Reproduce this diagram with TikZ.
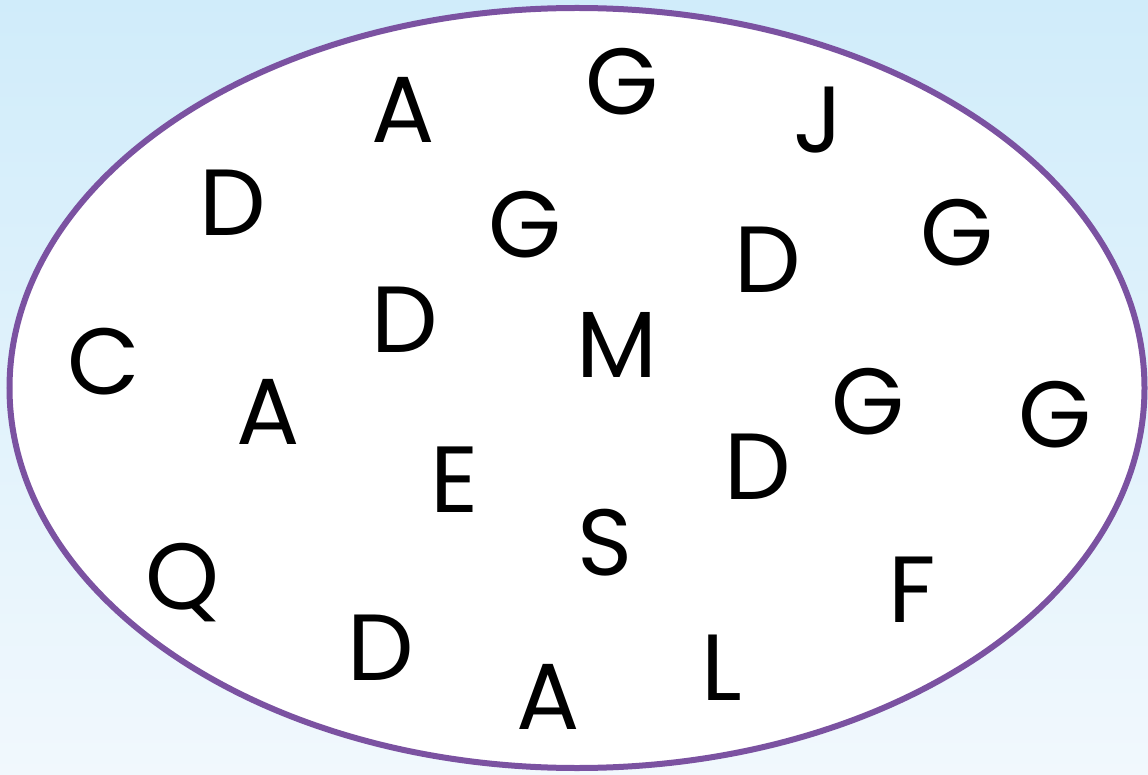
\documentclass[tikz,border=0pt]{standalone}
\usepackage{fontspec}
\setmainfont{Poppins}
\usetikzlibrary{shapes.geometric}
\definecolor{bgtop}{HTML}{D0ECFA}
\definecolor{bgbot}{HTML}{F1F8FD}
\definecolor{rim}{HTML}{7B52A1}
\tikzset{
  letter/.style={inner sep=0pt, anchor=center, font=\fontsize{94}{94}\selectfont, text=black},
}
\begin{document}
\begin{tikzpicture}[x=1pt,y=-1pt]
\useasboundingbox (0,0) rectangle (1148,775);
\shade[top color=bgtop, bottom color=bgbot] (0,0) rectangle (1148,775);
\node[draw=rim, line width=6pt, fill=white, ellipse, minimum width=1135pt, minimum height=760pt, inner sep=0pt] (set) at (577,388) {};
\node[letter] (a1) at (403,110) {A};
\node[letter] (g1) at (622,82) {G};
\node[letter] (j1) at (818,120) {J};
\node[letter] (d1) at (233,203) {D};
\node[letter] (g2) at (525,225) {G};
\node[letter] (d2) at (768,260) {D};
\node[letter] (g3) at (957,233) {G};
\node[letter] (d3) at (405,320) {D};
\node[letter] (m1) at (617,345) {M};
\node[letter] (c1) at (104,362) {C};
\node[letter] (a2) at (268,412) {A};
\node[letter] (g4) at (868,402) {G};
\node[letter] (g5) at (1055,415) {G};
\node[letter] (d4) at (758,467) {D};
\node[letter] (e1) at (455,480) {E};
\node[letter] (s1) at (605,543) {S};
\node[letter] (f1) at (912,590) {F};
\node[letter] (q1) at (183,583) {Q};
\node[letter] (d5) at (381,648) {D};
\node[letter] (l1) at (722,668) {L};
\node[letter] (a3) at (548,697) {A};
\end{tikzpicture}
\end{document}
